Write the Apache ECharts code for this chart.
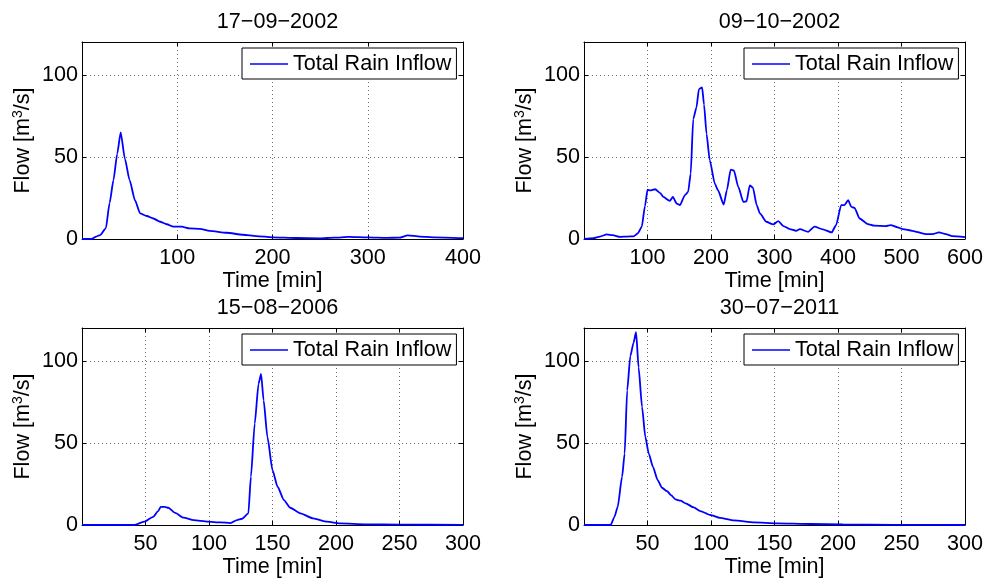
<!DOCTYPE html>
<html>
<head>
<meta charset="utf-8">
<script src="https://cdn.jsdelivr.net/npm/echarts@6/dist/echarts.min.js"></script>
<style>html,body{margin:0;padding:0;background:#fff}#c{width:987px;height:581px}</style>
</head>
<body>
<div id="c"></div>
<script>
// ---- data ----
const titles = ['17\u221209\u22122002', '09\u221210\u22122002', '15\u221208\u22122006', '30\u221207\u22122011'];
const seriesName = 'Total Rain Inflow';
const xMax = [400, 600, 300, 300];
const xInterval = [100, 100, 50, 50];
const yMax = 120;
const yInterval = 50;

const tA = [0, 10, 15, 19, 25, 29, 33, 37, 40.6, 45, 50, 55.6, 61, 68, 75, 82, 89, 96, 104.6, 113, 124, 134, 152, 169, 183, 200, 225, 250, 265, 280, 300, 320, 333, 342, 355, 370, 400];
const vA = [0, 0, 1.5, 2.4, 6.5, 22, 35.8, 52, 65, 49, 35.8, 23.6, 15.6, 14, 12.5, 10.5, 9, 7.5, 7.5, 6.5, 6.2, 5, 3.8, 2.6, 1.8, 1.0, 0.6, 0.4, 0.8, 1.3, 1.0, 0.7, 0.8, 2.2, 1.5, 1.0, 0.5];

const tB = [0, 15, 25, 36, 45, 57, 68, 78, 85, 91, 96, 100, 104, 112, 120, 125, 135, 140, 146, 151, 159, 164, 168, 172, 177, 181, 186, 189, 193, 198, 206, 211, 220, 225, 231, 236, 243, 251, 256, 261, 266, 272, 277, 287, 298, 306, 314, 324, 334, 340, 353, 363, 376, 390, 397, 405, 410, 416, 421, 426, 434, 447, 457, 475, 483, 494, 502, 517, 538, 549, 559, 570, 580, 600];
const vB = [0, 0.5, 1.5, 2.8, 2.3, 1.3, 1.5, 1.6, 3.5, 7.5, 20, 30, 29.6, 30.3, 28, 25.6, 23.2, 25.6, 21.6, 20.6, 26.7, 28.7, 39.8, 73, 80, 91.3, 92.3, 82, 64, 48, 33.7, 29.7, 21, 29.7, 42.2, 41.8, 31.7, 22.6, 23, 32.7, 31.3, 20.6, 15.6, 10.5, 8.9, 10.9, 7.9, 6, 5, 6, 4.4, 7.5, 5.9, 4, 8.5, 20.6, 20.6, 23.6, 19.6, 19, 12.5, 9.1, 8.1, 7.9, 8.5, 7.1, 6, 5, 3, 3, 4, 3, 1.8, 1.2];

const tC = [0, 41, 49, 56, 60, 62, 65, 68, 73, 80, 88, 99, 109, 117, 122, 126, 131, 133, 136, 139, 141, 143, 146, 150, 154, 159, 164, 172, 182, 193, 203, 224, 250, 300];
const vC = [0, 0, 2, 5, 8.5, 11.1, 11.1, 10.5, 7.5, 4.5, 3, 2, 1.6, 1.2, 3, 3.8, 7.1, 29.4, 61.7, 86, 92.1, 76, 53.6, 33.4, 23.3, 15.2, 10.5, 7.1, 4, 2, 1, 0.4, 0.2, 0.1];

const tD = [0, 21, 24, 26.5, 30, 32, 34, 36.5, 39, 41, 43, 45.7, 48.3, 51, 54.3, 58, 61.4, 65.4, 68.5, 72, 76, 80, 86.4, 91.6, 99.5, 107, 118, 134, 152, 178, 204, 244, 300];
const vD = [0, 0, 5, 11, 29.4, 43.5, 82, 103, 111, 117.4, 96, 72, 53.6, 43.5, 35.4, 27.3, 22.7, 20.6, 18.2, 15.6, 14.8, 13.2, 10.7, 8.5, 6.1, 4.3, 2.8, 1.6, 1, 0.6, 0.3, 0.1, 0];

const times = [tA, tB, tC, tD];
const values = [vA, vB, vC, vD];

// ---- layout ----
const FONT = 'Liberation Sans, Arial, Helvetica, sans-serif';
const FS = 21.6;
const grids = [
  {left: 82, top: 42, width: 381, height: 197},
  {left: 584, top: 42, width: 381, height: 197},
  {left: 82, top: 328, width: 381, height: 197},
  {left: 584, top: 328, width: 381, height: 197}
];
const titleTops = [6, 6, 292, 292];

const option = {
  backgroundColor: '#fff',
  animation: false,
  textStyle: {fontFamily: FONT},
  title: [], grid: [], xAxis: [], yAxis: [], series: [], legend: []
};

grids.forEach((g, i) => {
  option.grid.push({left: g.left, top: g.top, width: g.width, height: g.height, show: false});
  option.title.push({
    text: titles[i], left: g.left + g.width / 2, top: titleTops[i], textAlign: 'center',
    textStyle: {fontFamily: FONT, fontSize: FS, fontWeight: 'normal', color: '#000'}
  });
  const tickStyle = {show: true, inside: true, length: 4, lineStyle: {color: '#000', width: 1}};
  const lineStyle = {show: true, onZero: false, lineStyle: {color: '#000', width: 1}};
  const gridLine = {show: true, lineStyle: {color: '#6a6a6a', type: [1, 3], width: 1}};
  // bottom x
  option.xAxis.push({
    gridIndex: i, type: 'value', min: 0, max: xMax[i], interval: xInterval[i],
    position: 'bottom',
    axisLine: lineStyle, axisTick: tickStyle,
    axisLabel: {show: true, showMinLabel: false, margin: 8, fontFamily: FONT, fontSize: FS, color: '#000'},
    splitLine: gridLine,
    name: 'Time [min]', nameLocation: 'middle', nameGap: 27,
    nameTextStyle: {fontFamily: FONT, fontSize: FS, color: '#000'}
  });
  // top x (box + ticks)
  option.xAxis.push({
    gridIndex: i, type: 'value', min: 0, max: xMax[i], interval: xInterval[i],
    position: 'top',
    axisLine: lineStyle, axisTick: tickStyle,
    axisLabel: {show: false}, splitLine: {show: false}
  });
  // left y
  option.yAxis.push({
    gridIndex: i, type: 'value', min: 0, max: yMax, interval: yInterval,
    position: 'left',
    axisLine: lineStyle, axisTick: tickStyle,
    axisLabel: {show: true, showMaxLabel: false, margin: 4, fontFamily: FONT, fontSize: FS, color: '#000'},
    splitLine: gridLine,
    name: '{n|Flow [m}{s|3}{n|/s]}', nameLocation: 'middle', nameGap: 46, nameRotate: 90,
    nameTextStyle: {
      fontFamily: FONT, fontSize: FS, color: '#000',
      rich: {
        n: {fontFamily: FONT, fontSize: FS, color: '#000', lineHeight: 26},
        s: {fontFamily: FONT, fontSize: 14, color: '#000', lineHeight: 26, padding: [0, 0, 10, 0]}
      }
    }
  });
  // right y
  option.yAxis.push({
    gridIndex: i, type: 'value', min: 0, max: yMax, interval: yInterval,
    position: 'right',
    axisLine: lineStyle, axisTick: tickStyle,
    axisLabel: {show: false}, splitLine: {show: false}
  });
  option.series.push({
    name: seriesName, type: 'line', xAxisIndex: 2 * i, yAxisIndex: 2 * i,
    data: times[i].map((t, k) => [t, values[i][k]]),
    symbol: 'none', showSymbol: false, smooth: 0.2, smoothMonotone: 'x',
    lineStyle: {color: '#0000ff', width: 1.8}, itemStyle: {color: '#0000ff'},
    z: 3
  });
  option.legend.push({
    data: [seriesName], left: g.left + 160, top: g.top + 6,
    orient: 'horizontal',
    backgroundColor: '#fff', borderColor: '#000', borderWidth: 1, borderRadius: 0,
    padding: [5, 5, 4, 8],
    icon: 'rect', itemWidth: 38, itemHeight: 1.6,
    itemStyle: {color: '#0000ff', borderWidth: 0},
    selectedMode: false,
    textStyle: {fontFamily: FONT, fontSize: FS, color: '#000', padding: [0, 0, 0, 0]},
    z: 10
  });
});

const chart = echarts.init(document.getElementById('c'), null, {renderer: 'canvas'});
chart.setOption(option);
</script>
</body>
</html>
